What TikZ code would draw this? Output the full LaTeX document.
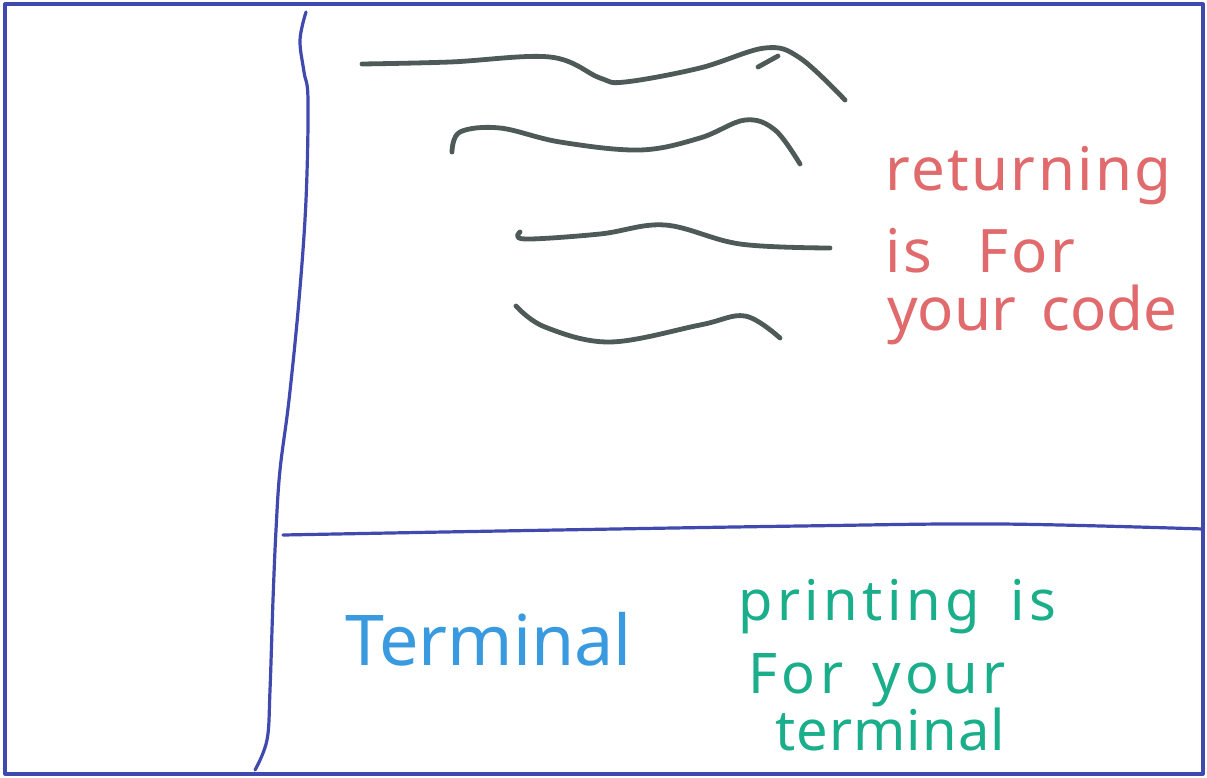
\documentclass[tikz,border=0pt]{standalone}
\usepackage{fontspec}
\setmainfont{Noto Sans}
\newfontfamily\greenfont[LetterSpace=8]{Noto Sans}
\newfontfamily\greenfontb[LetterSpace=2]{Noto Sans}
\newfontfamily\redfont[LetterSpace=4]{Noto Sans}
\definecolor{frameblue}{HTML}{4049AE}
\definecolor{scribble}{HTML}{4E5A57}
\definecolor{redtext}{HTML}{E06A6C}
\definecolor{bluetext}{HTML}{3A9AE0}
\definecolor{greentext}{HTML}{1AAE8A}
\begin{document}
\begin{tikzpicture}[x=1pt,y=-1pt,
  frameline/.style={draw=frameblue,line width=3.2pt,line cap=round,line join=round},
  scrib/.style={draw=scribble,line width=4.8pt,line cap=round,line join=round},
  hand/.style={inner sep=0pt,anchor=base west},
  redhand/.style={hand,text=redtext,font=\redfont\fontsize{60}{60}\selectfont},
  greenhand/.style={hand,text=greentext,font=\greenfont\fontsize{56}{56}\selectfont},
  bluehand/.style={hand,text=bluetext,font=\fontsize{70}{70}\selectfont}]
\useasboundingbox (0,0) rectangle (1207,777);
\fill[white] (0,0) rectangle (1207,777);
% frame
\draw[frameline] (5,4) rectangle (1203,774);
% vertical divider
\draw[frameline] plot[smooth,tension=0.6] coordinates {(306,12) (300,40) (304,72) (308,100) (306,200) (299,300) (289,400) (280,470) (276,530) (273,600) (270,690) (267,740) (255,770)};
% horizontal divider
\draw[frameline] plot[smooth,tension=0.6] coordinates {(283,535) (500,531) (800,526) (1000,524) (1203,529)};
% scribbles
\draw[scrib] plot[smooth,tension=0.6] coordinates {(362,64) (450,62) (550,57) (600,78) (625,82) (700,68) (765,48) (800,58) (845,100)};
\draw[scrib] (758,67) -- (778,56);
\draw[scrib] plot[smooth,tension=0.6] coordinates {(452,152) (460,132) (500,128) (560,142) (640,150) (700,138) (745,120) (775,130) (800,164)};
\draw[scrib] plot[smooth,tension=0.6] coordinates {(520,232) (525,239) (600,234) (665,225) (740,244) (830,248)};
\draw[scrib] plot[smooth,tension=0.6] coordinates {(516,306) (545,327) (610,342) (700,325) (745,316) (780,338)};
% texts
\node[redhand] (ret1) at (885,190) {returning};
\node[redhand] (ret2) at (885,272) {is\hspace{28pt} For};
\node[redhand,font=\fontsize{60}{60}\selectfont] (ret3) at (887,330) {your\hspace{10pt} code};
\node[bluehand] (term) at (345,665) {Terminal};
\node[greenhand] (prt1) at (738,620) {printing\hspace{12pt} is};
\node[greenhand] (prt2) at (748,693) {For\hspace{10pt} your};
\node[greenhand,font=\greenfontb\fontsize{56}{56}\selectfont] (prt3) at (775,750) {terminal};
\end{tikzpicture}
\end{document}
